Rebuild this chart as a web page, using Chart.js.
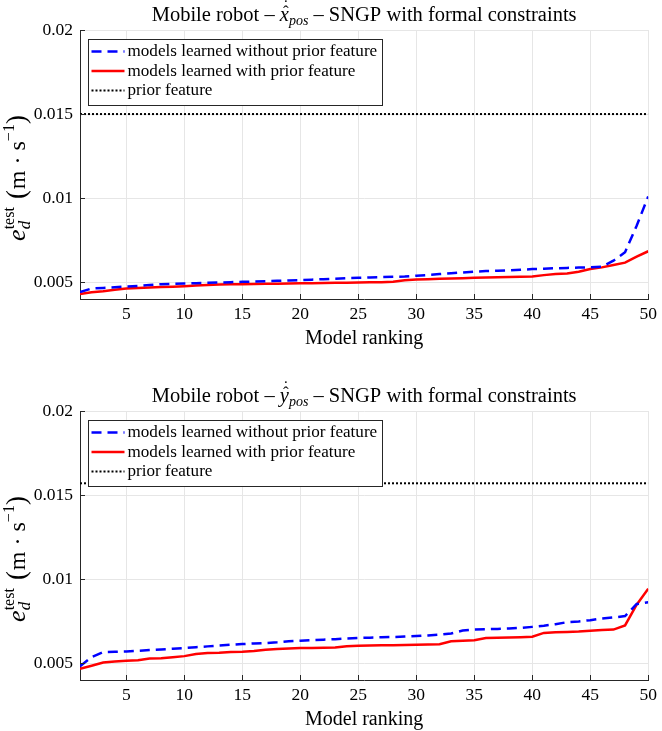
<!DOCTYPE html>
<html>
<head>
<meta charset="utf-8">
<script src="https://cdn.jsdelivr.net/npm/chart.js@4.4.1/dist/chart.umd.min.js"></script>
<style>
  body { margin: 0; background: #fff; width: 662px; height: 731px; position: relative; overflow: hidden; }
  canvas { position: absolute; left: 0; }
</style>
</head>
<body>
<canvas id="chartX" width="662" height="350" style="top:0"></canvas>
<canvas id="chartY" width="662" height="350" style="top:381px"></canvas>
<script>
// model ranking 1..50
const ranking = [1, 2, 3, 4, 5, 6, 7, 8, 9, 10, 11, 12, 13, 14, 15, 16, 17, 18, 19, 20,
  21, 22, 23, 24, 25, 26, 27, 28, 29, 30, 31, 32, 33, 34, 35, 36, 37, 38, 39, 40,
  41, 42, 43, 44, 45, 46, 47, 48, 49, 50];

// x_pos : models learned without / with prior feature
const xWithout = [0.00442, 0.00462, 0.00466, 0.00470, 0.00474, 0.00478, 0.00484, 0.00488, 0.00490, 0.00492,
  0.00494, 0.00496, 0.00498, 0.00500, 0.00502, 0.00504, 0.00506, 0.00508, 0.00510, 0.00512,
  0.00515, 0.00518, 0.00521, 0.00524, 0.00526, 0.00528, 0.00530, 0.00532, 0.00534, 0.00538,
  0.00543, 0.00548, 0.00553, 0.00558, 0.00562, 0.00566, 0.00568, 0.00571, 0.00574, 0.00578,
  0.00580, 0.00583, 0.00585, 0.00587, 0.00589, 0.00592, 0.00628, 0.00678, 0.00836, 0.0101];
const xWith = [0.00430, 0.00440, 0.00446, 0.00455, 0.00462, 0.00466, 0.00469, 0.00471, 0.00473, 0.00476,
  0.00480, 0.00484, 0.00486, 0.00487, 0.00488, 0.00489, 0.00490, 0.00491, 0.00492, 0.00493,
  0.00494, 0.00495, 0.00496, 0.00497, 0.00498, 0.00499, 0.00500, 0.00502, 0.00512, 0.00516,
  0.00518, 0.00520, 0.00522, 0.00524, 0.00526, 0.00528, 0.00530, 0.00531, 0.00532, 0.00534,
  0.00542, 0.00549, 0.00552, 0.00562, 0.00578, 0.00588, 0.00602, 0.00616, 0.00652, 0.00684];
const xPrior = 0.015;

// y_pos : models learned without / with prior feature
const yWithout = [0.00482, 0.00536, 0.00566, 0.00568, 0.00570, 0.00574, 0.00578, 0.00582, 0.00586, 0.00590,
  0.00595, 0.00600, 0.00605, 0.00610, 0.00614, 0.00617, 0.00620, 0.00624, 0.00630, 0.00634,
  0.00637, 0.00640, 0.00643, 0.00647, 0.00650, 0.00652, 0.00654, 0.00656, 0.00658, 0.00661,
  0.00665, 0.00670, 0.00677, 0.00694, 0.00700, 0.00702, 0.00704, 0.00706, 0.00710, 0.00716,
  0.00723, 0.00732, 0.00744, 0.00748, 0.00756, 0.00766, 0.00772, 0.00780, 0.00852, 0.00862];
const yWith = [0.00466, 0.00485, 0.00504, 0.00510, 0.00514, 0.00517, 0.00528, 0.00530, 0.00536, 0.00542,
  0.00554, 0.00560, 0.00562, 0.00566, 0.00568, 0.00572, 0.00580, 0.00585, 0.00587, 0.00590,
  0.00591, 0.00592, 0.00594, 0.00601, 0.00603, 0.00605, 0.00606, 0.00607, 0.00608, 0.00609,
  0.00611, 0.00613, 0.00630, 0.00634, 0.00636, 0.00650, 0.00651, 0.00653, 0.00655, 0.00657,
  0.00680, 0.00684, 0.00686, 0.00688, 0.00693, 0.00698, 0.00700, 0.00725, 0.00848, 0.00943];
const yPrior = 0.0157;

const xTicks = [5, 10, 15, 20, 25, 30, 35, 40, 45, 50];
const yTicks = [0.005, 0.01, 0.015, 0.02];
const yTickLabels = ['0.005', '0.01', '0.015', '0.02'];
const legendLabels = ['models learned without prior feature', 'models learned with prior feature', 'prior feature'];

const SERIF = '"Liberation Serif", "DejaVu Serif", serif';
const AXIS = '#262626';

function pts(vals) {
  return ranking.map((r, i) => ({ x: r, y: vals[i] }));
}

// draws text pieces one after the other, returns end x
function drawParts(ctx, parts, x, y, measureOnly) {
  parts.forEach(p => {
    ctx.font = p.font;
    if (!measureOnly) ctx.fillText(p.text, x, y + (p.dy || 0));
    x += ctx.measureText(p.text).width + (p.gap || 0);
  });
  return x;
}

// title, y label, legend box and the inward tick marks
const decorations = {
  id: 'decorations',
  afterDatasetsDraw(chart, args, opts) {
    const ctx = chart.ctx;
    const area = chart.chartArea;
    ctx.save();
    ctx.fillStyle = '#000';
    ctx.textBaseline = 'alphabetic';
    ctx.textAlign = 'left';

    // title
    const fN = '20.5px ' + SERIF, fI = 'italic 20.5px ' + SERIF, fS = 'italic 14px ' + SERIF;
    const parts = [
      { text: 'Mobile robot \u2013 ', font: fN },
      { text: opts.letter, font: fI },
      { text: 'pos', font: fS, dy: 4 },
      { text: ' \u2013 SNGP with formal constraints', font: fN }
    ];
    const w = drawParts(ctx, parts, 0, 0, true);
    const tx = (area.left + area.right) / 2 - w / 2;
    const ty = 21;
    drawParts(ctx, parts, tx, ty);
    ctx.font = fN;
    const wPre = ctx.measureText(parts[0].text).width;
    ctx.font = fI;
    const wL = ctx.measureText(opts.letter).width;
    const cx = tx + wPre + wL / 2 + 1.5;
    ctx.textAlign = 'center';
    ctx.font = '17px ' + SERIF;
    ctx.fillText('\u02C6', cx, ty - 4);
    ctx.fillText('\u02D9', cx, ty - 10);
    ctx.textAlign = 'left';

    // y axis label, rotated
    ctx.save();
    ctx.translate(25, 178);
    ctx.rotate(-Math.PI / 2);
    const fE = 'italic 26px ' + SERIF, fSub = 'italic 17px ' + SERIF, fSup = '16px ' + SERIF;
    const fU = '24px ' + SERIF, fP = '27px ' + SERIF, fU2 = '16px ' + SERIF;
    ctx.font = fE; const wE = ctx.measureText('e').width;
    ctx.font = fSup; const wT = ctx.measureText('test').width;
    const tail = [
      { text: '(', font: fP, gap: 1 },
      { text: 'm \u00B7 s', font: fU },
      { text: '\u22121', font: fU2, dy: -11 },
      { text: ')', font: fP }
    ];
    const wTail = drawParts(ctx, tail, 0, 0, true);
    const total = wE + wT + 8 + wTail;
    let lx = -total / 2;
    ctx.font = fE; ctx.fillText('e', lx, 0);
    lx += wE;
    ctx.font = fSup; ctx.fillText('test', lx, -11);
    ctx.font = fSub; ctx.fillText('d', lx, 5);
    lx += wT + 8;
    drawParts(ctx, tail, lx, 0);
    ctx.restore();

    // inward ticks
    const xs = chart.scales.x, ys = chart.scales.y;
    ctx.strokeStyle = AXIS;
    ctx.lineWidth = 1;
    ctx.beginPath();
    xTicks.forEach(v => {
      const px = Math.round(xs.getPixelForValue(v)) + 0.5;
      ctx.moveTo(px, area.bottom);
      ctx.lineTo(px, area.bottom - 5);
    });
    yTicks.forEach(v => {
      const py = Math.round(ys.getPixelForValue(v)) + 0.5;
      ctx.moveTo(area.left, py);
      ctx.lineTo(area.left + 5, py);
    });
    ctx.stroke();

    // legend box
    const bx = 88.5, by = 39.5, bw = 294, bh = 66;
    ctx.fillStyle = '#fff';
    ctx.fillRect(bx, by, bw, bh);
    ctx.strokeStyle = '#262626';
    ctx.strokeRect(bx, by, bw, bh);
    ctx.textBaseline = 'middle';
    chart.data.datasets.forEach((ds, i) => {
      const ry = by + 12 + i * 19.5;
      ctx.beginPath();
      ctx.strokeStyle = ds.borderColor;
      ctx.lineWidth = ds.borderWidth;
      ctx.setLineDash(ds.borderDash || []);
      ctx.moveTo(bx + 3, ry);
      ctx.lineTo(bx + 36, ry);
      ctx.stroke();
      ctx.setLineDash([]);
      ctx.fillStyle = '#000';
      ctx.font = '17.1px ' + SERIF;
      ctx.fillText(ds.label, bx + 39, ry);
    });
    ctx.restore();
  }
};

function makeChart(id, letter, without, withPrior, prior) {
  const ctx = document.getElementById(id).getContext('2d');
  return new Chart(ctx, {
    type: 'line',
    data: {
      datasets: [
        {
          label: legendLabels[0],
          data: pts(without),
          borderColor: '#0000ff',
          borderWidth: 2.5,
          borderDash: [10, 6],
          pointRadius: 0,
          fill: false
        },
        {
          label: legendLabels[1],
          data: pts(withPrior),
          borderColor: '#ff0000',
          borderWidth: 2.5,
          pointRadius: 0,
          fill: false
        },
        {
          label: legendLabels[2],
          data: [{ x: ranking[0], y: prior }, { x: ranking[ranking.length - 1], y: prior }],
          borderColor: '#000000',
          borderWidth: 2,
          borderDash: [2, 2],
          pointRadius: 0,
          fill: false
        }
      ]
    },
    options: {
      responsive: false,
      devicePixelRatio: 1,
      animation: false,
      layout: { padding: { left: 0, right: 10, top: 30, bottom: 0 } },
      plugins: {
        legend: { display: false },
        tooltip: { enabled: false },
        decorations: { letter: letter }
      },
      scales: {
        x: {
          type: 'linear',
          min: 1,
          max: 50,
          afterFit: s => { s.height = 51; },
          afterBuildTicks: s => { s.ticks = xTicks.map(v => ({ value: v })); },
          grid: { color: '#e6e6e6', drawTicks: false },
          border: { display: true, color: AXIS, width: 1 },
          ticks: {
            padding: 5,
            color: '#000',
            maxRotation: 0,
            font: { family: SERIF, size: 17.5 }
          },
          title: {
            display: true,
            text: 'Model ranking',
            color: '#000',
            padding: { top: 0, bottom: -1 },
            font: { family: SERIF, size: 20 }
          }
        },
        y: {
          min: 0.004,
          max: 0.02,
          afterFit: s => { s.width = 80; },
          afterBuildTicks: s => { s.ticks = yTicks.map(v => ({ value: v })); },
          grid: { color: '#e6e6e6', drawTicks: false },
          border: { display: true, color: AXIS, width: 1 },
          ticks: {
            padding: 7,
            color: '#000',
            font: { family: SERIF, size: 17.5 },
            callback: v => yTickLabels[yTicks.indexOf(v)]
          }
        }
      }
    },
    plugins: [decorations]
  });
}

makeChart('chartX', 'x', xWithout, xWith, xPrior);
makeChart('chartY', 'y', yWithout, yWith, yPrior);
</script>
</body>
</html>
